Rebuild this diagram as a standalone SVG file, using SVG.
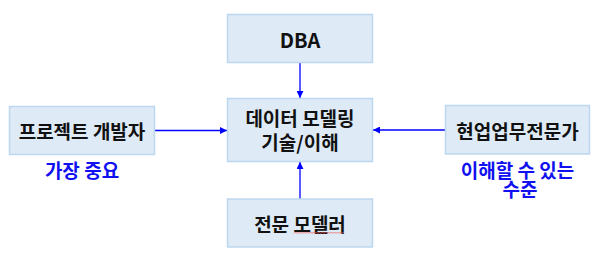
<svg xmlns="http://www.w3.org/2000/svg" width="598" height="255" viewBox="0 0 598 255">
<defs>
<style>
.box{fill:#DEEAF6;stroke:#BDD7EE;stroke-width:1.5}
.t{font-family:"Noto Sans CJK KR","Liberation Sans",sans-serif;font-weight:bold;font-size:19px;fill:#111;text-anchor:middle;dominant-baseline:central}
.b{fill:#1010F0}
.c{stroke:#0000FF;stroke-width:1.3;fill:none}
</style>
<marker id="ah" viewBox="0 0 10 10" refX="10" refY="5" markerWidth="7" markerHeight="7" markerUnits="userSpaceOnUse" orient="auto">
<path d="M0,0 L10,5 L0,10 z" fill="#0000FF"/>
</marker>
</defs>
<rect width="598" height="255" fill="#fff"/>
<g id="connectors">
<line class="c" x1="300" y1="62.5" x2="300" y2="98" marker-end="url(#ah)"/>
<line class="c" x1="155" y1="130.5" x2="227" y2="130.5" marker-end="url(#ah)"/>
<line class="c" x1="445" y1="130" x2="373" y2="130" marker-end="url(#ah)"/>
<line class="c" x1="300" y1="199" x2="300" y2="162" marker-end="url(#ah)"/>
</g>
<g id="dba">
<rect class="box" x="227.5" y="14.5" width="145" height="48"/>
<text class="t" x="300" y="39" style="font-size:20px">DBA</text>
</g>
<g id="center">
<rect class="box" x="227.5" y="98.5" width="145" height="63"/>
<text class="t" x="300" y="117.5">데이터 모델링</text>
<text class="t" x="300" y="141.5">기술/이해</text>
</g>
<g id="developer">
<rect class="box" x="9.5" y="106.5" width="145" height="48"/>
<text class="t" x="82" y="130.5">프로젝트 개발자</text>
<text class="t b" x="82" y="169">가장 중요</text>
</g>
<g id="expert">
<rect class="box" x="445.5" y="105.5" width="144" height="48.5"/>
<text class="t" x="517.5" y="130.5">현업업무전문가</text>
<text class="t b" x="517.5" y="169">이해할 수 있는</text>
<text class="t b" x="520" y="188">수준</text>
</g>
<g id="modeler">
<rect class="box" x="227.5" y="199" width="145" height="48"/>
<text class="t" x="300" y="223">전문 모델러</text>
<path d="M294,233.5 l1.5,-1.5 l1.5,1.5 l1.5,-1.5 l1.5,1.5 l1.5,-1.5 l1.5,1.5 l1.5,-1.5 l1.5,1.5 l1.5,-1.5 l1.5,1.5 l1.5,-1.5 l1.5,1.5 l1.5,-1.5 l1.5,1.5 l1.5,-1.5 l1.5,1.5 l1.5,-1.5 l1.5,1.5 l1.5,-1.5 l1.5,1.5 l1.5,-1.5 l1.5,1.5 l1.5,-1.5 l1.5,1.5 l1.5,-1.5 l1.5,1.5 l1.5,-1.5 l1.5,1.5 l1.5,-1.5 l1.5,1.5 l1.5,-1.5 l1.5,1.5 l1.5,-1.5" fill="none" stroke="#F06060" stroke-width="0.8"/>
</g>
</svg>
